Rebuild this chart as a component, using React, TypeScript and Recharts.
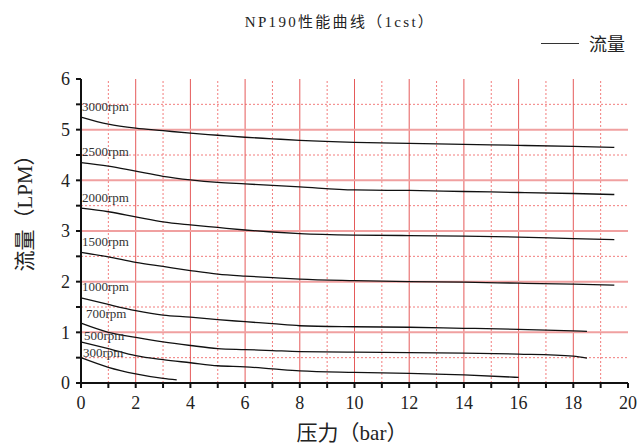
import React from 'react';
import {
  LineChart,
  Line,
  XAxis,
  YAxis,
  ReferenceLine,
  Legend
} from 'recharts';

const pressureLong = [0, 1, 2, 3, 4, 5, 6, 7, 8, 10, 12, 14, 16, 18, 19.5];
const pressureMid = [0, 1, 2, 3, 4, 5, 6, 7, 8, 10, 12, 14, 16, 18, 18.5];
const pressure500 = [0, 1, 2, 3, 4, 5, 6, 7, 8, 10, 12, 14, 16];
const pressure300 = [0, 1, 2, 3, 3.5];

const flow3000 = [5.25, 5.11, 5.03, 4.98, 4.93, 4.89, 4.85, 4.82, 4.79, 4.75, 4.73, 4.71, 4.69, 4.67, 4.65];
const flow2500 = [4.35, 4.28, 4.18, 4.08, 4.01, 3.96, 3.93, 3.9, 3.87, 3.81, 3.8, 3.78, 3.76, 3.74, 3.72];
const flow2000 = [3.45, 3.38, 3.28, 3.18, 3.12, 3.07, 3.02, 2.98, 2.95, 2.92, 2.91, 2.9, 2.88, 2.85, 2.83];
const flow1500 = [2.58, 2.49, 2.38, 2.3, 2.22, 2.15, 2.11, 2.08, 2.05, 2.02, 2.0, 1.99, 1.97, 1.95, 1.93];
const flow1000 = [1.68, 1.55, 1.43, 1.34, 1.3, 1.25, 1.21, 1.17, 1.13, 1.11, 1.1, 1.08, 1.06, 1.03, 1.02];
const flow700 = [1.18, 1.0, 0.9, 0.81, 0.74, 0.68, 0.66, 0.64, 0.62, 0.61, 0.6, 0.59, 0.57, 0.53, 0.49];
const flow500 = [0.81, 0.68, 0.54, 0.46, 0.4, 0.34, 0.32, 0.28, 0.24, 0.21, 0.19, 0.16, 0.11];
const flow300 = [0.5, 0.31, 0.18, 0.09, 0.06];

const xTicks = [0, 1, 2, 3, 4, 5, 6, 7, 8, 9, 10, 11, 12, 13, 14, 15, 16, 17, 18, 19, 20];
const yTicks = [0, 0.5, 1, 1.5, 2, 2.5, 3, 3.5, 4, 4.5, 5, 5.5, 6];

const solidX = [2, 4, 6, 8, 10, 12, 14, 16, 18];
const dashX = [1, 3, 5, 7, 9, 11, 13, 15, 17, 19];
const solidY = [1, 2, 3, 4, 5];
const dashY = [0.5, 1.5, 2.5, 3.5, 4.5, 5.5];

const toPoints = (xs: number[], ys: number[]) => xs.map((x, i) => ({ x, y: ys[i] }));

const curves = [
  { name: '3000rpm', data: toPoints(pressureLong, flow3000), dx: 1, dy: -6 },
  { name: '2500rpm', data: toPoints(pressureLong, flow2500), dx: 1, dy: -7 },
  { name: '2000rpm', data: toPoints(pressureLong, flow2000), dx: 1, dy: -6 },
  { name: '1500rpm', data: toPoints(pressureLong, flow1500), dx: 1, dy: -6 },
  { name: '1000rpm', data: toPoints(pressureMid, flow1000), dx: 1, dy: -7 },
  { name: '700rpm', data: toPoints(pressureMid, flow700), dx: 5, dy: -5 },
  { name: '500rpm', data: toPoints(pressure500, flow500), dx: 3, dy: -2 },
  { name: '300rpm', data: toPoints(pressure300, flow300), dx: 2, dy: -1 }
];

const serif = "'Liberation Serif', 'DejaVu Serif', 'Noto Sans CJK SC', serif";
const cjk = "'Noto Sans CJK SC', 'Liberation Serif', serif";

export default function App() {
  return (
    <div style={{ position: 'absolute', left: 0, top: 0, width: 639, height: 447, background: '#fff' }}>
      <div
        style={{
          position: 'absolute',
          left: 0,
          width: 680,
          top: 10,
          textAlign: 'center',
          fontFamily: serif,
          fontSize: 15,
          letterSpacing: 2.3,
          color: '#222'
        }}
      >
        NP190性能曲线（1cst）
      </div>
      <LineChart
        width={639}
        height={447}
        margin={{ top: 53, right: 11, left: 0, bottom: 0 }}
      >
        {dashX.map((v) => (
          <ReferenceLine key={`dx${v}`} x={v} stroke="#f27c7c" strokeWidth={1} strokeDasharray="2 2" />
        ))}
        {dashY.map((v) => (
          <ReferenceLine key={`dy${v}`} y={v} stroke="#f27c7c" strokeWidth={1} strokeDasharray="2 2" />
        ))}
        {solidX.map((v) => (
          <ReferenceLine key={`sx${v}`} x={v} stroke="#e55a5a" strokeWidth={1} />
        ))}
        {solidY.map((v) => (
          <ReferenceLine key={`sy${v}`} y={v} stroke="#f0a0a0" strokeWidth={2} />
        ))}
        <XAxis
          type="number"
          dataKey="x"
          domain={[0, 20]}
          ticks={xTicks}
          interval={0}
          tickFormatter={(v: number) => (v % 2 === 0 ? String(v) : '')}
          height={64}
          stroke="#111"
          strokeWidth={2}
          tickSize={5}
          tick={{ fill: '#222', fontSize: 18, fontFamily: serif, dy: 6 }}
          allowDuplicatedCategory={false}
          label={{
            content: () => (
              <text x={352} y={440} textAnchor="middle" fontSize={21} fontFamily={serif} fill="#222">
                压力（bar）
              </text>
            )
          }}
        />
        <YAxis
          type="number"
          dataKey="y"
          domain={[0, 6]}
          ticks={yTicks}
          interval={0}
          tickFormatter={(v: number) => (Number.isInteger(v) ? String(v) : '')}
          width={81}
          stroke="#111"
          strokeWidth={2}
          tickSize={5}
          tick={{ fill: '#222', fontSize: 18, fontFamily: serif, dx: -4 }}
          label={{
            content: () => (
              <text
                x={0}
                y={0}
                transform="translate(32, 208) rotate(-90)"
                textAnchor="middle"
                fontSize={21}
                fontFamily={serif}
                fill="#222"
              >
                流量（LPM）
              </text>
            )
          }}
        />
        <Legend
          verticalAlign="top"
          align="right"
          wrapperStyle={{ top: 30, right: 14, width: 'auto' }}
          content={() => (
            <div style={{ display: 'flex', alignItems: 'center', fontFamily: cjk, fontSize: 18, color: '#222' }}>
              <span style={{ display: 'inline-block', width: 38, height: 0, borderTop: '1.5px solid #333', marginRight: 10 }} />
              流量
            </div>
          )}
        />
        {curves.map((c) => (
          <Line
            key={c.name}
            data={c.data}
            dataKey="y"
            name={c.name}
            type="monotone"
            stroke="#111"
            strokeWidth={1.3}
            dot={false}
            activeDot={false}
            isAnimationActive={false}
            label={(p: any) =>
              p.index === 0 ? (
                <text
                  key={c.name}
                  x={p.x + c.dx}
                  y={p.y + c.dy}
                  fontSize={13}
                  fontFamily={serif}
                  fill="#333"
                >
                  {c.name}
                </text>
              ) : (
                <g key={`${c.name}-${p.index}`} />
              )
            }
          />
        ))}
      </LineChart>
    </div>
  );
}
